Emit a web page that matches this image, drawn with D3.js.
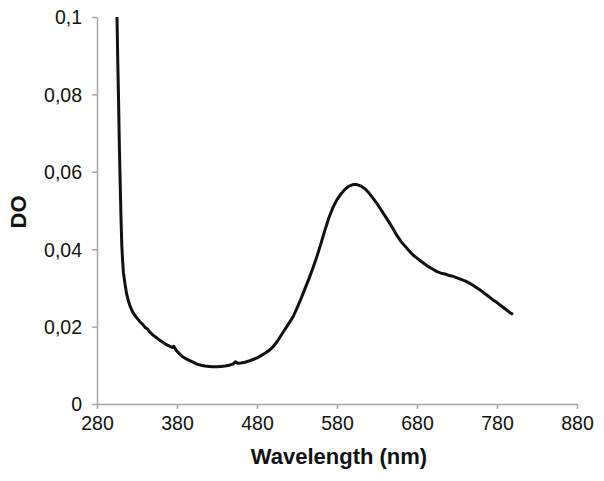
<!DOCTYPE html>
<html><head><meta charset="utf-8">
<script src="https://cdn.jsdelivr.net/npm/d3@7"></script>
<style>body{margin:0;background:#fff}svg{display:block}</style>
</head><body>
<script>
const wavelength = [305,306,307,308,309,310,311,312,313,315,317,319,321,324,327,330,334,337,340,343,346,350,354,358,362,366,370,374,376,379,383,387,392,396,400,405,410,415,420,425,430,435,440,445,450,453,456,460,465,470,475,480,485,490,495,500,505,510,515,520,525,530,535,540,545,550,555,560,565,570,575,580,585,590,595,600,605,610,615,620,625,630,635,640,645,650,655,660,665,670,675,680,685,690,695,700,705,710,715,720,725,730,735,740,745,750,755,760,765,770,775,780,785,790,795,800];
const od = [0.1,0.088,0.078,0.066,0.057,0.048,0.041,0.037,0.034,0.031,0.0285,0.0268,0.0255,0.024,0.023,0.0222,0.0212,0.0206,0.0198,0.0194,0.0186,0.0178,0.0172,0.0165,0.016,0.0154,0.015,0.0146,0.0149,0.0139,0.013,0.0122,0.0116,0.0112,0.0108,0.0103,0.01,0.0098,0.0097,0.0096,0.0096,0.0097,0.0098,0.01,0.0103,0.0109,0.0105,0.0106,0.0108,0.0111,0.0115,0.0119,0.0125,0.0131,0.0138,0.0148,0.0161,0.0177,0.0193,0.0209,0.0225,0.0248,0.0272,0.0298,0.0324,0.0352,0.0382,0.0415,0.045,0.0482,0.0508,0.0528,0.0543,0.0555,0.0563,0.0567,0.0567,0.0563,0.0556,0.0545,0.0532,0.0518,0.0502,0.0486,0.047,0.0453,0.0435,0.042,0.0408,0.0396,0.0385,0.0377,0.0369,0.0361,0.0354,0.0348,0.0342,0.0338,0.0336,0.0332,0.033,0.0326,0.0322,0.0318,0.0313,0.0307,0.03,0.0293,0.0285,0.0277,0.0269,0.0262,0.0254,0.0246,0.0238,0.0231];
const xTicks = [280,380,480,580,680,780,880];
const yTicks = [0,0.02,0.04,0.06,0.08,0.1];
const yTickLabels = ["0","0,02","0,04","0,06","0,08","0,1"];

const W = 604, H = 481;
const svg = d3.select("body").append("svg").attr("width", W).attr("height", H);
const x = d3.scaleLinear().domain([280, 880]).range([97, 577]);
const y = d3.scaleLinear().domain([0, 0.1]).range([404, 17]);
const axisColor = "#a6a6a6";
const font = "'Liberation Sans', Arial, Helvetica, sans-serif";

const xAxis = svg.append("g").attr("transform", "translate(0,404)")
  .call(d3.axisBottom(x).tickValues(xTicks).tickSize(5).tickSizeOuter(0).tickFormat(d3.format("d")));
const yAxis = svg.append("g").attr("transform", "translate(97,0)")
  .call(d3.axisLeft(y).tickValues(yTicks).tickSize(5).tickSizeOuter(0).tickFormat((d,i) => yTickLabels[i]));
[xAxis, yAxis].forEach(g => {
  g.select(".domain").attr("stroke", axisColor).attr("stroke-width", 1.5);
  g.selectAll(".tick line").attr("stroke", axisColor).attr("stroke-width", 1.5);
  g.selectAll(".tick text").attr("fill", "#111").style("font-family", font).style("font-size", "19.5px");
});
xAxis.selectAll(".tick text").attr("dy", "0").attr("y", 26);
yAxis.selectAll(".tick text").attr("x", -15).attr("dy", "0.35em");

const line = d3.line().x((d, i) => x(wavelength[i])).y(d => y(d)).curve(d3.curveLinear);
svg.append("path").datum(od).attr("d", line)
  .attr("fill", "none").attr("stroke", "#111").attr("stroke-width", 3)
  .attr("stroke-linejoin", "round").attr("stroke-linecap", "butt");

svg.append("text").attr("x", 339).attr("y", 464).attr("text-anchor", "middle")
  .style("font-family", font).style("font-size", "22px").style("font-weight", "bold")
  .attr("fill", "#111").text("Wavelength (nm)");
svg.append("text").attr("transform", "translate(26,212) rotate(-90)").attr("text-anchor", "middle")
  .style("font-family", font).style("font-size", "22px").style("font-weight", "bold")
  .attr("fill", "#111").text("DO");
</script>
</body></html>
